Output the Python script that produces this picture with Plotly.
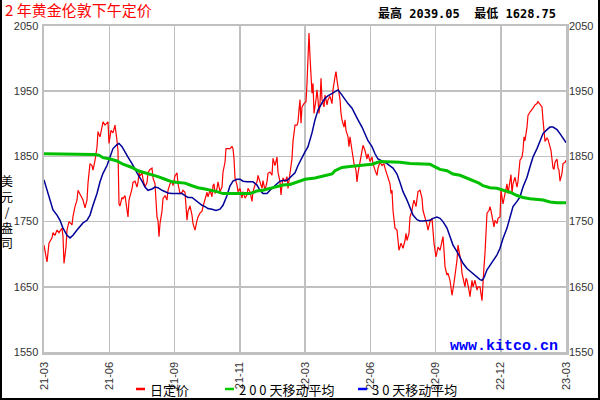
import plotly.graph_objects as go

# ---------------- data ----------------
x_labels = ["21-03", "21-06", "21-09", "21-11", "22-03", "22-06", "22-09", "22-12", "23-03"]
n_days = 522  # trading-day index span of the chart

price_day = [0, 2, 3, 5, 8, 9, 11, 13, 15, 18, 19, 20, 22, 23, 25, 28, 29, 31, 33, 34, 36, 38, 39, 41, 43, 44,
             46, 48, 49, 51, 53, 54, 56, 58, 59, 61, 63, 64, 65, 67, 69, 71, 73, 74, 75, 76, 78, 79, 81, 83, 84, 85,
             86, 88, 89, 91, 93, 94, 95, 96, 98, 99, 101, 103, 104, 106, 108, 109, 111, 112, 113, 114, 115, 116,
             118, 119, 121, 123, 124, 126, 128, 129, 131, 133, 134, 136, 138, 139, 141, 143, 144, 146, 148, 149,
             151, 153, 154, 156, 158, 159, 161, 163, 164, 166, 168, 169, 170,
             171, 173, 174, 176, 178, 179, 181, 182, 184, 186, 188, 189, 190, 191, 193, 194, 196, 198, 199, 201,
             203, 204, 206, 208, 209, 211, 213, 214, 216, 218, 219, 221, 223, 224, 226, 228, 229, 231, 233, 234,
             236, 237, 238, 239, 241, 243, 244, 246, 248, 249, 251, 253, 254, 255,
             256, 257, 258, 260, 262, 263, 264, 265, 266, 267, 268, 269, 270, 272, 273, 274, 275, 276, 277, 278,
             280, 281, 283, 284, 286, 288, 289, 291, 292, 293, 294, 296, 297, 298, 300, 301, 302, 304, 305, 306,
             308, 309, 310, 312, 313, 314, 316, 318, 319, 321, 323, 324, 326, 328, 329, 331, 333, 334, 336, 338, 340,
             341, 343, 344, 346, 347, 348, 349, 350, 351, 353, 354, 355, 357, 358, 359, 361, 362, 363, 365, 366,
             368, 369, 370, 372, 373, 374, 376, 378, 379, 381, 383, 384, 386, 388, 389, 390, 392, 393, 394, 396,
             398, 399, 400, 401, 403, 404, 406, 407, 408, 410, 411, 413, 414, 415, 417, 418, 419, 421, 422, 423,
             425, 426, 428, 429, 431, 433, 434,
             436, 438, 439, 440, 441, 442, 443, 445, 446, 447, 449, 450, 451, 453, 454, 456, 457, 458, 459, 461,
             463, 464, 466, 467, 468, 469, 471, 473, 474, 476, 478, 479, 480, 481, 483, 484, 486, 488, 489, 491,
             493, 494, 496, 498, 499, 500, 501, 503, 504, 506, 507, 509, 510, 511, 513, 514, 515, 516, 518, 519,
             521, 522]
price = [1714, 1696, 1688, 1717, 1725, 1733, 1729, 1737, 1733, 1740, 1727, 1686, 1711, 1737, 1750, 1745, 1758, 1773,
         1783, 1798, 1791, 1786, 1783, 1771, 1783, 1809, 1839, 1836, 1829, 1844, 1864, 1888, 1880, 1895, 1903, 1898,
         1901, 1903, 1870, 1890, 1886, 1898, 1874, 1858, 1777, 1774, 1787, 1785, 1790, 1771, 1757, 1783,
         1788, 1800, 1810, 1812, 1803, 1810, 1825, 1820, 1825, 1815, 1803, 1810, 1825, 1830, 1832, 1817, 1808, 1783,
         1757, 1752, 1727, 1747, 1766, 1785, 1790, 1783, 1798, 1808, 1812, 1805, 1820, 1825, 1808, 1793, 1795, 1798,
         1795, 1752, 1766, 1774, 1760, 1747, 1737, 1752, 1757, 1763, 1766, 1773, 1783, 1795, 1788, 1798, 1788, 1805,
         1808,
         1793, 1801, 1811, 1796, 1803, 1826, 1841, 1862, 1862, 1862, 1865, 1862, 1847, 1817, 1806, 1796, 1801, 1786,
         1796, 1786, 1791, 1801, 1796, 1781, 1796, 1806, 1811, 1821, 1811, 1801, 1813, 1798, 1811, 1824, 1826, 1821,
         1847, 1836, 1849, 1826, 1811, 1791, 1806, 1817, 1811, 1819, 1801, 1826, 1847, 1873, 1898, 1898, 1903, 1921,
         1937, 1901, 1926, 1931, 1934, 1962, 2013, 2039.05, 2003, 1982, 1947, 1962, 1916, 1937, 1952, 1937, 1916,
         1931, 1970, 1937, 1926, 1944, 1929, 1937, 1942, 1931, 1952, 1972, 1980, 1967, 1957, 1937, 1916, 1906, 1895,
         1906, 1890, 1880, 1865, 1880, 1859, 1849, 1839, 1829, 1811, 1824, 1839, 1854, 1867, 1859, 1846, 1854, 1842,
         1849, 1839, 1829, 1821, 1832, 1841, 1836, 1839,
         1832, 1822, 1820, 1808, 1793, 1798, 1767, 1752, 1740, 1737, 1721, 1706, 1717, 1711, 1709, 1721, 1732, 1721,
         1732, 1757, 1767, 1777, 1783, 1773, 1788, 1796, 1798, 1786, 1767, 1757, 1745, 1737, 1750, 1755, 1737, 1717,
         1696, 1706, 1711, 1706, 1721, 1727, 1706, 1681, 1668, 1671, 1660, 1645, 1637, 1656, 1668, 1691, 1714, 1706,
         1688, 1671, 1665, 1650, 1663, 1660, 1645, 1635, 1660, 1650, 1660, 1645, 1650,
         1650, 1628.75, 1665, 1681, 1702, 1732, 1763, 1767, 1773, 1767, 1747, 1742, 1752, 1747, 1755, 1757, 1798,
         1783, 1777, 1793, 1808, 1793, 1812, 1822, 1793, 1808, 1818, 1803, 1812, 1844, 1849, 1859, 1880, 1874, 1895,
         1913, 1918, 1921, 1924, 1929, 1931, 1934, 1929, 1926, 1906, 1880, 1873, 1878, 1876, 1865, 1859, 1832, 1830,
         1841, 1846, 1832, 1829, 1812, 1824, 1839, 1841, 1844]

ma30_day = [0, 3, 6, 9, 13, 16, 19, 23, 26, 29, 33, 36, 39, 43, 46, 49, 53, 56, 59, 63, 66, 69, 73, 75, 78, 81, 84,
            88, 91, 94, 98, 101, 104, 108, 111, 114, 118, 121, 124, 128, 131, 134, 138, 141, 144, 148, 151, 154,
            158, 161, 164, 168, 172, 176, 179, 183, 186, 189, 193, 196, 199, 203, 206, 209, 213, 216, 219, 223,
            226, 229, 233, 236, 239, 243, 246, 249, 251, 254, 258, 261, 264, 268, 271, 274, 278, 281, 284, 288,
            291, 294, 298, 301, 304, 308, 311, 314, 318, 321, 324, 328, 331, 334, 338, 343, 349, 353, 356, 359,
            363, 366, 369, 373, 376, 379, 383, 386, 389, 393, 396, 399, 403, 406, 409, 413, 416, 419, 423, 426,
            429, 433, 436, 438, 440, 443, 446, 449, 453, 456, 459, 463, 466, 469, 473, 476, 479, 483, 486, 489,
            493, 496, 499, 503, 506, 509, 513, 516, 519, 522]
ma30 = [1814, 1798, 1780, 1768, 1760, 1752, 1740, 1729, 1725, 1729, 1737, 1743, 1748, 1752, 1760, 1775, 1793, 1811,
        1824, 1836, 1849, 1862, 1868, 1870, 1865, 1858, 1849, 1839, 1830, 1822, 1812, 1803, 1798, 1800, 1803, 1802,
        1798, 1796, 1794, 1793, 1793, 1794, 1793, 1790, 1787, 1787, 1783, 1780, 1775, 1773, 1770, 1769, 1767, 1769,
        1775, 1790, 1805, 1812, 1815, 1815, 1812, 1811, 1811, 1811, 1806, 1798, 1793, 1793, 1798, 1803, 1808, 1812,
        1813, 1813, 1817, 1822, 1825, 1836, 1849, 1857, 1865, 1886, 1906, 1921, 1932, 1939, 1943, 1947, 1949, 1952,
        1944, 1937, 1931, 1924, 1916, 1906, 1895, 1885, 1874, 1865, 1854, 1846, 1843, 1839, 1832, 1823, 1810, 1796,
        1783, 1770, 1760, 1753, 1751, 1751, 1751, 1752, 1755, 1757, 1755, 1750, 1740, 1727, 1714, 1704, 1694, 1686,
        1678, 1674, 1670, 1665, 1661, 1660, 1664, 1676, 1683, 1688, 1699, 1709, 1724, 1740, 1757, 1773, 1781, 1788,
        1803, 1818, 1834, 1849, 1862, 1874, 1885, 1891, 1895, 1895, 1891, 1885, 1878, 1871]

ma200_day = [0, 43, 50, 55, 59, 66, 73, 79, 85, 88, 94, 101, 108, 114, 121, 128, 134, 141, 148, 154, 161, 168, 173,
             179, 186, 193, 199, 206, 213, 219, 226, 233, 239, 246, 253, 261, 271, 281, 288, 291, 298, 308, 318,
             328, 336, 346, 356, 366, 376, 386, 391, 396, 403, 409, 416, 423, 429, 435, 439, 446, 453, 459, 466,
             473, 479, 486, 493, 499, 506, 513, 522]
ma200 = [1854, 1854, 1853, 1852, 1848, 1846, 1843, 1838, 1835, 1833, 1828, 1825, 1822, 1819, 1815, 1811, 1810, 1809,
         1805, 1802, 1800, 1798, 1796, 1793, 1793, 1793, 1793, 1793, 1797, 1798, 1801, 1804, 1806, 1807, 1811, 1815,
         1817, 1820, 1823, 1828, 1833, 1835, 1836, 1838, 1842, 1842, 1841, 1839, 1838, 1838, 1834, 1830, 1828, 1823,
         1821, 1817, 1813, 1809, 1805, 1802, 1801, 1798, 1795, 1790, 1787, 1785, 1784, 1783, 1780, 1779, 1779]

y_min, y_max = 1550, 2050
high_text = "最高 2039.05"
low_text = "最低 1628.75"
title_text = "2 年黄金伦敦下午定价"
legend_names = ["日定价", "2 0 0 天移动平均", "3 0 天移动平均"]
unit_text = "美<br>元<br>/<br>盎<br>司"
watermark = "www.kitco.cn"

# ---------------- figure ----------------
W, H = 600, 400
L, R, T, B = 44, 34, 26, 48
PW, PH = W - L - R, H - T - B


def px(x):
    return (x - L) / PW


def py(y):
    return (H - B - y) / PH


RED, GREEN, BLUE = "#ff0000", "#00c000", "#000099"
GRID = "#c0c0c0"
CJK = "Noto Sans CJK SC"

fig = go.Figure()
fig.add_trace(go.Scatter(x=price_day, y=price, mode="lines", line=dict(color=RED, width=1.2),
                         name=legend_names[0], showlegend=False))
fig.add_trace(go.Scatter(x=ma200_day, y=ma200, mode="lines", line=dict(color=GREEN, width=3),
                         name=legend_names[1], showlegend=False, yaxis="y2"))
fig.add_trace(go.Scatter(x=ma30_day, y=ma30, mode="lines", line=dict(color=BLUE, width=1.5),
                         name=legend_names[2], showlegend=False))

tickvals = [i * n_days / (len(x_labels) - 1) for i in range(len(x_labels))]
axfont = dict(family="Liberation Sans, Arial", size=11, color="#333333")

fig.update_layout(
    width=W, height=H,
    margin=dict(l=L, r=R, t=T, b=B, autoexpand=False),
    paper_bgcolor="white", plot_bgcolor="white",
    xaxis=dict(range=[0, n_days], tickvals=tickvals, ticktext=x_labels, tickangle=-90,
               showgrid=True, gridcolor=GRID, gridwidth=1.5, zeroline=False,
               showline=True, linecolor=GRID, linewidth=2.5, mirror=True, ticks="",
               tickfont=axfont, ticklabelstandoff=3, automargin=False),
    yaxis=dict(range=[y_min, y_max], tick0=y_min, dtick=100, showgrid=True, gridcolor=GRID, gridwidth=1.5,
               zeroline=False, showline=True, linecolor=GRID, linewidth=2.5, mirror=True, ticks="",
               tickfont=axfont, ticklabelstandoff=1, automargin=False),
    yaxis2=dict(range=[y_min, y_max], tick0=y_min, dtick=100, overlaying="y", side="right", matches="y",
                showgrid=False, zeroline=False, showline=False, ticks="", tickfont=axfont,
                ticklabelstandoff=2, automargin=False),
)

ann = []
ann.append(dict(x=px(3), y=py(9.5), xref="paper", yref="paper", text=title_text, showarrow=False,
                xanchor="left", yanchor="middle", font=dict(family=CJK, size=15, color=RED)))
ann.append(dict(x=px(558), y=py(14), xref="paper", yref="paper",
                text="<b>" + high_text + "&nbsp;&nbsp;" + low_text + "</b>", showarrow=False,
                xanchor="right", yanchor="middle",
                font=dict(family="DejaVu Sans Mono, " + CJK, size=12, color="#000000")))
ann.append(dict(x=px(7), y=py(211), xref="paper", yref="paper", text=unit_text, showarrow=False,
                xanchor="center", yanchor="middle",
                font=dict(family=CJK, size=12, color="#000000")))
ann.append(dict(x=px(560), y=py(346), xref="paper", yref="paper", text="<b>" + watermark + "</b>",
                showarrow=False, xanchor="right", yanchor="middle",
                font=dict(family="Liberation Mono, Courier New", size=15, color="#0000ff")))

leg = [(136, RED, legend_names[0]), (225, "#00cc00", legend_names[1]), (358, "#0000ff", legend_names[2])]
shapes = []
for x0, c, t in leg:
    shapes.append(dict(type="line", xref="paper", yref="paper", x0=px(x0), x1=px(x0 + 9),
                       y0=py(389), y1=py(389), line=dict(color=c, width=2.5)))
    ann.append(dict(x=px(x0 + 12), y=py(389), xref="paper", yref="paper", text=t, showarrow=False,
                    xanchor="left", yanchor="middle", font=dict(family=CJK, size=13, color="#000000")))

# outer frame (left, right, bottom)
shapes.append(dict(type="line", xref="paper", yref="paper", x0=px(1), x1=px(1), y0=py(0), y1=py(399),
                   line=dict(color="black", width=2)))
shapes.append(dict(type="line", xref="paper", yref="paper", x0=px(599), x1=px(599), y0=py(0), y1=py(399),
                   line=dict(color="black", width=2)))
shapes.append(dict(type="line", xref="paper", yref="paper", x0=px(0), x1=px(600), y0=py(399), y1=py(399),
                   line=dict(color="black", width=2)))

fig.update_layout(annotations=ann, shapes=shapes)
fig.write_html("out.html", config={"displayModeBar": False, "staticPlot": True},
               post_script="document.body.style.margin='0px';document.body.style.overflow='hidden';")
